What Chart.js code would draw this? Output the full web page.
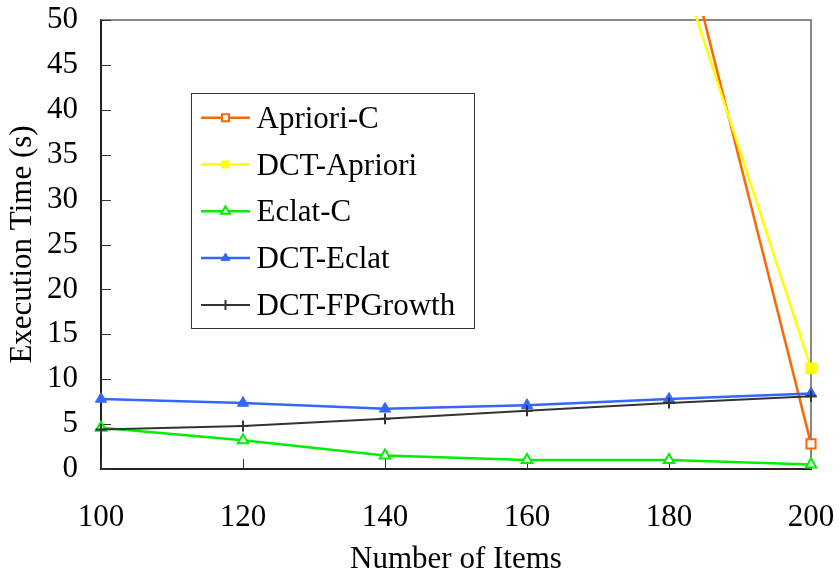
<!DOCTYPE html>
<html>
<head>
<meta charset="utf-8">
<script src="https://cdn.jsdelivr.net/npm/chart.js@4/dist/chart.umd.min.js"></script>
<style>
  html, body { margin: 0; padding: 0; background: #ffffff; }
  #c { display: block; }
</style>
</head>
<body>
<canvas id="c" width="839" height="577"></canvas>
<script>
// Number of items on the x axis
const itemCounts = [100, 120, 140, 160, 180, 200];

// Execution time (s) per algorithm; values far above the axis range are clipped
const aprioriC    = [null, null, null, null, 65.6, 2.8];
const dctApriori  = [null, null, null, null, 59.6, 11.2];
const eclatC      = [4.6, 3.2, 1.5, 1.0, 1.0, 0.5];
const dctEclat    = [7.8, 7.35, 6.7, 7.1, 7.8, 8.4];
const dctFPGrowth = [4.4, 4.8, 5.6, 6.5, 7.35, 8.1];

const seriesNames = ['Apriori-C', 'DCT-Apriori', 'Eclat-C', 'DCT-Eclat', 'DCT-FPGrowth'];

const xTicks = { min: 100, max: 200, step: 20 };
const yTicks = { min: 0, max: 50, step: 5 };

const SERIF = "'Liberation Serif', 'Times New Roman', serif";
const FONT = { family: SERIF, size: 31 };

function pts(values) {
  return itemCounts.map((x, i) => ({ x: x, y: values[i] }));
}

const styles = [
  { color: '#FF6600', fill: '#FFFFFF', pointStyle: 'rect',     radius: 6.5, pointBorder: 2,   line: 2.5 },
  { color: '#FFFF00', fill: '#FFFF00', pointStyle: 'rect',     radius: 7.5, pointBorder: 1,   line: 2.5 },
  { color: '#00EE00', fill: '#FFFFFF', pointStyle: 'triangle', radius: 6,   pointBorder: 2,   line: 2.5 },
  { color: '#3366FF', fill: '#3366FF', pointStyle: 'triangle', radius: 6.5, pointBorder: 1,   line: 2.5 },
  { color: '#333333', fill: '#333333', pointStyle: 'cross',    radius: 5.5, pointBorder: 2,   line: 2 }
];

const seriesValues = [aprioriC, dctApriori, eclatC, dctEclat, dctFPGrowth];

const datasets = seriesValues.map((vals, i) => ({
  label: seriesNames[i],
  data: pts(vals),
  borderColor: styles[i].color,
  backgroundColor: styles[i].fill,
  borderWidth: styles[i].line,
  pointStyle: styles[i].pointStyle,
  pointRadius: styles[i].radius,
  pointBorderWidth: styles[i].pointBorder,
  pointBorderColor: styles[i].color,
  pointBackgroundColor: styles[i].fill,
  tension: 0,
  spanGaps: false,
  clip: { left: 12, top: 4, right: 12, bottom: 12 },
  order: seriesValues.length - i
}));

// Gray frame on the top and right of the plot area, plus inward tick marks
const framePlugin = {
  id: 'frame',
  beforeDatasetsDraw(chart) {
    const { ctx, chartArea: a } = chart;
    ctx.save();
    ctx.strokeStyle = '#888888';
    ctx.lineWidth = 2;
    ctx.beginPath();
    ctx.moveTo(a.left, a.top);
    ctx.lineTo(a.right, a.top);
    ctx.lineTo(a.right, a.bottom);
    ctx.stroke();

    ctx.strokeStyle = '#333333';
    ctx.lineWidth = 1;
    const ys = chart.scales.y, xs = chart.scales.x;
    ys.ticks.forEach(t => {
      const py = Math.round(ys.getPixelForValue(t.value)) + 0.5;
      ctx.beginPath();
      ctx.moveTo(a.left, py);
      ctx.lineTo(a.left + 10, py);
      ctx.stroke();
    });
    xs.ticks.forEach(t => {
      const px = Math.round(xs.getPixelForValue(t.value)) + 0.5;
      ctx.beginPath();
      ctx.moveTo(px, a.bottom);
      ctx.lineTo(px, a.bottom - 10);
      ctx.stroke();
    });
    ctx.restore();
  }
};

// Boxed legend with a line sample and marker for each series
const legendBox = {
  id: 'legendBox',
  afterDatasetsDraw(chart) {
    const { ctx } = chart;
    const box = { x: 191.5, y: 93.5, w: 283, h: 235 };
    ctx.save();
    ctx.fillStyle = '#FFFFFF';
    ctx.fillRect(box.x, box.y, box.w, box.h);
    ctx.strokeStyle = '#333333';
    ctx.lineWidth = 1;
    ctx.strokeRect(box.x, box.y, box.w, box.h);

    const rowGap = 46.8;
    const firstBaseline = 127.7;
    chart.data.datasets.forEach((ds, i) => {
      const base = firstBaseline + i * rowGap;
      const cy = base - 10;
      ctx.strokeStyle = ds.borderColor;
      ctx.lineWidth = ds.borderWidth;
      ctx.beginPath();
      ctx.moveTo(201, cy);
      ctx.lineTo(250, cy);
      ctx.stroke();

      ctx.strokeStyle = ds.pointBorderColor;
      ctx.fillStyle = ds.pointBackgroundColor;
      ctx.lineWidth = ds.pointBorderWidth;
      if (Chart.helpers && Chart.helpers.drawPoint) {
        Chart.helpers.drawPoint(ctx, {
          pointStyle: ds.pointStyle, radius: 5, rotation: 0, borderWidth: ds.pointBorderWidth
        }, 225.5, cy);
      }

      ctx.fillStyle = '#000000';
      ctx.font = `${FONT.size}px ${SERIF}`;
      ctx.textAlign = 'left';
      ctx.textBaseline = 'alphabetic';
      ctx.fillText(ds.label, 256.5, base);
    });
    ctx.restore();
  }
};

new Chart(document.getElementById('c'), {
  type: 'line',
  data: { datasets },
  plugins: [framePlugin, legendBox],
  options: {
    responsive: false,
    animation: false,
    devicePixelRatio: 1,
    layout: { padding: { left: 0, top: 20, right: 28, bottom: 0 } },
    plugins: {
      legend: { display: false },
      tooltip: { enabled: false },
      title: { display: false }
    },
    scales: {
      x: {
        type: 'linear',
        min: xTicks.min,
        max: xTicks.max,
        ticks: { stepSize: xTicks.step, padding: 30, color: '#000000', font: FONT, maxRotation: 0 },
        grid: { display: false, drawTicks: false },
        border: { display: true, color: '#222222', width: 2 },
        title: {
          display: true, text: 'Number of Items', color: '#000000',
          font: { family: SERIF, size: 31, lineHeight: 1.1 }, padding: 0
        },
        afterFit(scale) {
          scale.height = 108;
          scale.paddingLeft = 0;
          scale.paddingRight = 0;
        }
      },
      y: {
        type: 'linear',
        min: yTicks.min,
        max: yTicks.max,
        ticks: { stepSize: yTicks.step, padding: 23, color: '#000000', font: FONT },
        grid: { display: false, drawTicks: false },
        border: { display: true, color: '#222222', width: 2 },
        title: {
          display: true, text: 'Execution Time (s)', color: '#000000',
          font: FONT, padding: { top: 4, bottom: 0 }
        },
        afterFit(scale) {
          scale.width = 101;
          scale.paddingTop = 0;
          scale.paddingBottom = 0;
        }
      }
    }
  }
});
</script>
</body>
</html>
